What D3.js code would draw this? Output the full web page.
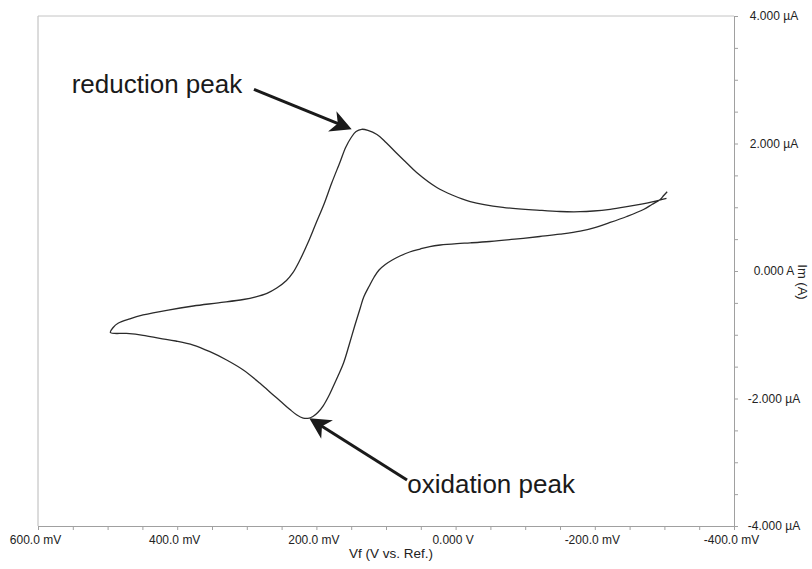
<!DOCTYPE html>
<html>
<head>
<meta charset="utf-8">
<script src="https://cdn.jsdelivr.net/npm/d3@7"></script>
<style>
  body { margin: 0; background: #fff; }
  svg { display: block; font-family: "Liberation Sans", Arial, sans-serif; }
</style>
</head>
<body>
<div id="root"></div>
<script>
// forward scan (lower branch): potential in mV, current in µA
const potFwd = [-304, -299, -294, -282, -270, -246, -222, -200, -179, -150, -121, -85, -49, -21, -2, 22, 37, 51, 66, 80,
    91, 101, 110, 117, 124, 132, 137, 145, 153, 161, 169, 176, 183, 190, 198, 205, 212, 219, 228, 238,
    252, 262, 281, 305, 329, 353, 377, 402, 425, 449, 473, 496]
const curFwd = [1.244, 1.184, 1.122, 1.043, 0.965, 0.855, 0.761, 0.682, 0.624, 0.577, 0.541, 0.499, 0.463, 0.442, 0.430,
    0.408, 0.384, 0.345, 0.298, 0.235, 0.173, 0.102, 0.016, -0.094, -0.235, -0.408, -0.580, -0.863, -1.161, -1.443,
    -1.647, -1.815, -1.976, -2.110, -2.220, -2.282, -2.311, -2.306, -2.259, -2.173, -2.039, -1.945, -1.762, -1.553,
    -1.396, -1.266, -1.161, -1.098, -1.056, -1.009, -0.980, -0.965]

// reverse scan (upper branch)
const potRev = [492, 485, 468, 449, 413, 377, 341, 305, 287, 271, 257, 243, 234, 224, 212, 201, 189, 178, 166, 158,
    150, 143, 135, 126, 113, 100, 85, 71, 56, 27, 5, -21, -68, -121, -150, -179, -198, -222, -246, -269, -284, -303]
const curRev = [-0.886, -0.820, -0.750, -0.690, -0.612, -0.549, -0.499, -0.447, -0.405, -0.350, -0.267, -0.149, -0.031,
    0.165, 0.447, 0.737, 1.051, 1.380, 1.710, 1.937, 2.094, 2.188, 2.223, 2.207, 2.141, 2.016, 1.851, 1.702, 1.545,
    1.310, 1.192, 1.090, 0.999, 0.952, 0.933, 0.930, 0.941, 0.968, 1.009, 1.054, 1.089, 1.140]

// axis ticks
const xTicks = d3.range(600, -401, -50)
const xLabels = {600: "600.0 mV", 400: "400.0 mV", 200: "200.0 mV", 0: "0.000 V", "-200": "-200.0 mV", "-400": "-400.0 mV"}
const yTicks = d3.range(-4, 4.01, 0.5)
const yLabels = {4: "4.000 µA", 2: "2.000 µA", 0: "0.000 A", "-2": "-2.000 µA", "-4": "-4.000 µA"}

// annotations (mV, µA)
const notes = [
    {text: "reduction peak", at: [551.6, 2.80], from: [289.7, 2.85], to: [149.3, 2.223]},
    {text: "oxidation peak", at: [69.5, -3.48], from: [69.8, -3.278], to: [210.2, -2.311]}
]

const w = 812, h = 569
const m = {top: 16, right: 78, bottom: 43, left: 38}

const x = d3.scaleLinear().domain([600, -400]).range([m.left, w - m.right])
const y = d3.scaleLinear().domain([-4, 4]).range([h - m.bottom, m.top])

const svg = d3.select("#root").append("svg")
    .attr("width", w)
    .attr("height", h)

// frame lines left and top
svg.append("line")
    .attr("x1", x(600)).attr("x2", x(600))
    .attr("y1", y(4)).attr("y2", y(-4))
    .attr("stroke", "#b8b8b8").attr("stroke-width", 1)
svg.append("line")
    .attr("x1", x(600)).attr("x2", x(-400))
    .attr("y1", y(4)).attr("y2", y(4))
    .attr("stroke", "#c4c4c4").attr("stroke-width", 1)

// bottom axis
const xAxis = svg.append("g")
    .attr("transform", `translate(0,${y(-4)})`)
    .call(d3.axisBottom(x).tickValues(xTicks).tickSize(4).tickSizeOuter(0)
        .tickFormat(d => xLabels[d] || ""))
xAxis.select(".domain").attr("stroke", "#a0a0a0")
xAxis.selectAll(".tick line").attr("stroke", "#a0a0a0")
xAxis.selectAll(".tick text")
    .attr("y", 9).attr("dx", -3)
    .attr("font-size", 12).attr("fill", "#222")
    .attr("font-family", "Liberation Sans, Arial, sans-serif")

// right axis
const yAxis = svg.append("g")
    .attr("transform", `translate(${x(-400)},0)`)
    .call(d3.axisRight(y).tickValues(yTicks).tickSize(4).tickSizeOuter(0)
        .tickFormat(d => yLabels[d] || ""))
yAxis.select(".domain").attr("stroke", "#a0a0a0")
yAxis.selectAll(".tick line").attr("stroke", "#a0a0a0")
yAxis.selectAll(".tick text")
    .attr("x", 40).attr("text-anchor", "middle")
    .attr("font-size", 12).attr("fill", "#222")
    .attr("font-family", "Liberation Sans, Arial, sans-serif")

// axis titles
svg.append("text")
    .attr("x", (x(600) + x(-400)) / 2 + 5)
    .attr("y", h - 11)
    .attr("text-anchor", "middle")
    .attr("font-size", 13.5).attr("fill", "#222")
    .text("Vf (V vs. Ref.)")

svg.append("text")
    .attr("transform", `translate(${w - 14},${y(0) + 11}) rotate(90)`)
    .attr("text-anchor", "middle")
    .attr("font-size", 13).attr("fill", "#222")
    .text("Im (A)")

// the voltammogram
const pts = potFwd.map((p, i) => [p, curFwd[i]])
    .concat(potRev.map((p, i) => [p, curRev[i]]))

const line = d3.line()
    .x(d => x(d[0]))
    .y(d => y(d[1]))
    .curve(d3.curveCatmullRom.alpha(0.5))

svg.append("path")
    .datum(pts)
    .attr("d", line)
    .attr("fill", "none")
    .attr("stroke", "#2b2b2b")
    .attr("stroke-width", 1.3)

// annotations
notes.forEach(n => {
    svg.append("text")
        .attr("x", x(n.at[0]))
        .attr("y", y(n.at[1]))
        .attr("font-size", 26)
        .attr("fill", "#1a1a1a")
        .text(n.text)

    const x0 = x(n.from[0]), y0 = y(n.from[1])
    const x1 = x(n.to[0]), y1 = y(n.to[1])
    const len = Math.hypot(x1 - x0, y1 - y0)
    const ux = (x1 - x0) / len, uy = (y1 - y0) / len
    const nx = -uy, ny = ux

    svg.append("line")
        .attr("x1", x0).attr("y1", y0)
        .attr("x2", x1 - ux * 14).attr("y2", y1 - uy * 14)
        .attr("stroke", "#1a1a1a")
        .attr("stroke-width", 3)

    const head = [
        [x1, y1],
        [x1 - ux * 21 + nx * 11, y1 - uy * 21 + ny * 11],
        [x1 - ux * 15, y1 - uy * 15],
        [x1 - ux * 21 - nx * 11, y1 - uy * 21 - ny * 11]
    ]
    svg.append("path")
        .attr("d", "M" + head.join("L") + "Z")
        .attr("fill", "#1a1a1a")
})
</script>
</body>
</html>
